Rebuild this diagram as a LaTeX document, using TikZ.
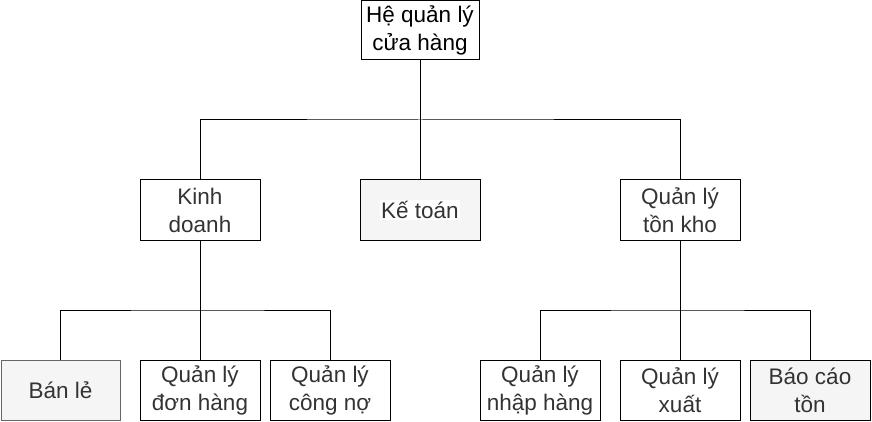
\documentclass[tikz,border=0pt]{standalone}
\usepackage{fontspec}
\setmainfont{Liberation Sans}
\definecolor{txt}{HTML}{333333}
\definecolor{fillg}{HTML}{F5F5F5}
\definecolor{edgeg}{HTML}{666666}
\begin{document}
\begin{tikzpicture}[x=1pt,y=-1pt,
  box/.style={draw=black,line width=1pt,minimum width=120pt,minimum height=60pt,inner sep=0pt,align=center,text=txt,font=\fontsize{22.5}{28}\selectfont},
  greybox/.style={box,fill=fillg},
  wire/.style={line width=1pt,draw=black}]
\useasboundingbox (0,0) rectangle (872,422);
\node[box,text=black,minimum width=118pt,minimum height=59pt] (top) at (420,30) {Hệ quản lý\\cửa hàng};
\node[box] (kd) at (200,210) {Kinh\\doanh};
\node[greybox] (kt) at (420,210) {\setlength{\fboxsep}{1pt}\colorbox{white}{Kế toán}};
\node[box] (tk) at (680,210) {Quản lý\\tồn kho};
\node[greybox,draw=edgeg,minimum width=119pt] (bl) at (60.5,390) {Bán lẻ};
\node[box] (dh) at (200,390) {Quản lý\\đơn hàng};
\node[box] (cn) at (330,390) {Quản lý\\công nợ};
\node[box] (nh) at (540,390) {Quản lý\\nhập hàng};
\node[box] (xu) at (680,390) {Quản lý\\xuất};
\node[greybox] (bc) at (810,390) {Báo cáo\\tồn};
\coordinate (b1) at (420,120);
\coordinate (b2) at (200,310);
\coordinate (b3) at (680,310);
\draw[wire] (top) -- (kt);
\draw[wire] (kd.north) |- (b1) -| (tk.north);
\draw[wire] (kd) -- (dh);
\draw[wire] (bl.north) |- (b2) -| (cn.north);
\draw[wire] (tk) -- (xu);
\draw[wire] (nh.north) |- (b3) -| (bc.north);
\end{tikzpicture}
\end{document}
